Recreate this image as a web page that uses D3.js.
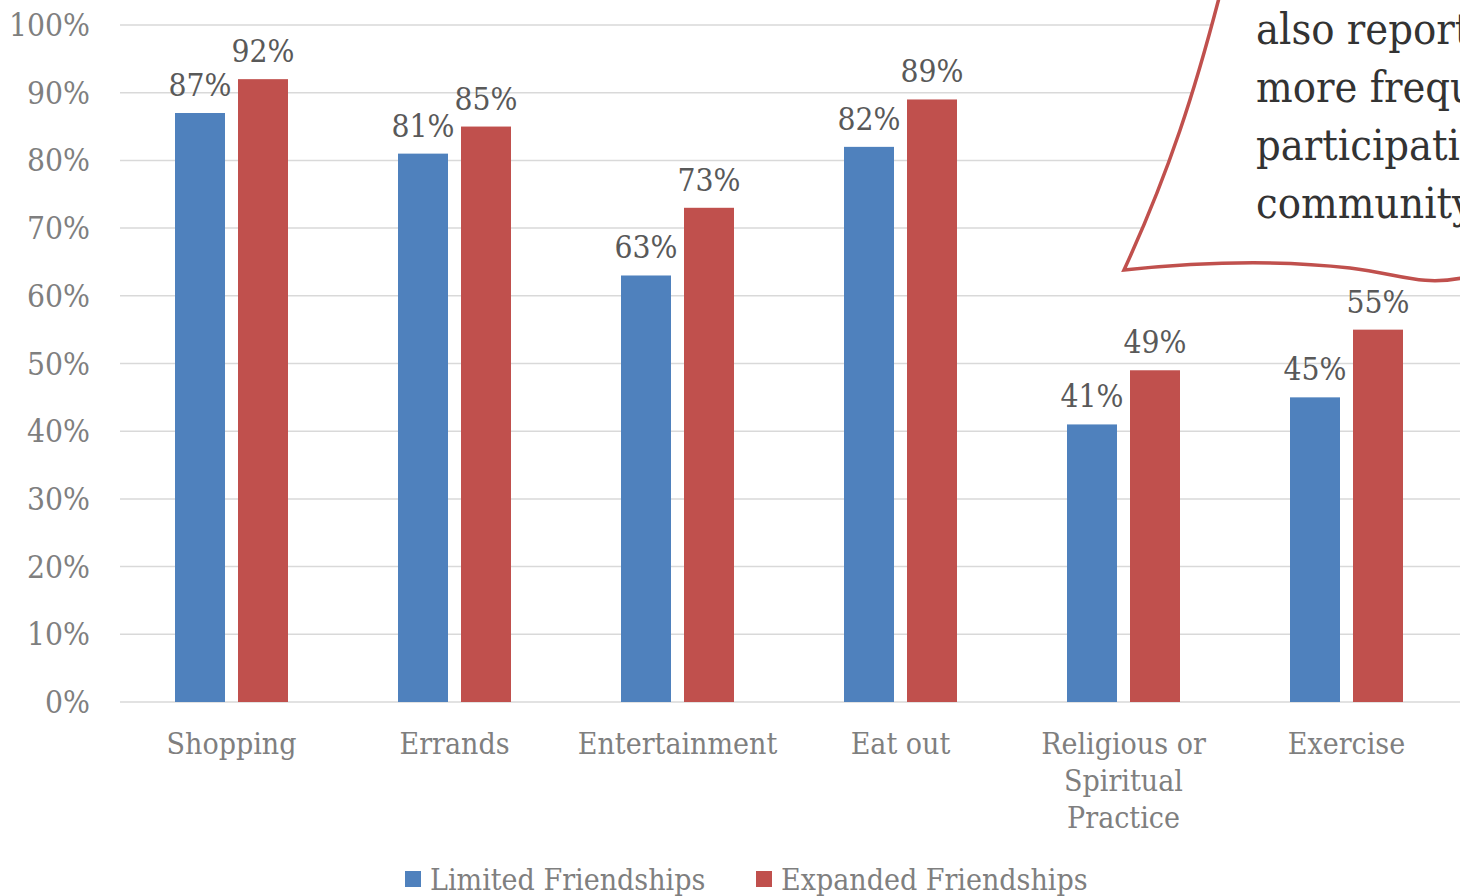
<!DOCTYPE html>
<html><head><meta charset="utf-8">
<script src="https://cdn.jsdelivr.net/npm/d3@7"></script>
<style>body{margin:0;background:#fff}svg{display:block}text{font-stretch:condensed}</style>
</head><body>
<svg id="c" width="1460" height="896"></svg>
<script>
const categories = [["Shopping"],["Errands"],["Entertainment"],["Eat out"],["Religious or","Spiritual","Practice"],["Exercise"]];
const limited = [0.87,0.81,0.63,0.82,0.41,0.45];
const expanded = [0.92,0.85,0.73,0.89,0.49,0.55];
const seriesNames = ["Limited Friendships","Expanded Friendships"];
const colors = ["#4F81BD","#C0504D"];
const yTicks = [0,0.1,0.2,0.3,0.4,0.5,0.6,0.7,0.8,0.9,1.0];
const calloutLines = ["also reported","more frequent","participation in","community"];

const FONT = "'DejaVu Serif Condensed', 'DejaVu Serif', serif";
const svg = d3.select("#c");
const W = 1460, H = 896;
const m = {l:120, r:2, t:25, b:194};
const x = d3.scaleBand().domain(d3.range(categories.length)).range([m.l, W - m.r]).paddingInner(0).paddingOuter(0);
const y = d3.scaleLinear().domain([0,1]).range([H - m.b, m.t]);
const barW = 50, gap = 13;

// gridlines
svg.append("g").selectAll("line").data(yTicks).join("line")
  .attr("x1", m.l).attr("x2", W).attr("y1", d=>y(d)).attr("y2", d=>y(d))
  .attr("stroke", "#d9d9d9").attr("stroke-width", 1.5);

// y labels
svg.append("g").selectAll("text").data(yTicks).join("text")
  .attr("x", 90).attr("y", d=>y(d)+11).attr("text-anchor","end")
  .attr("font-family", FONT).attr("font-size", 31.5).attr("fill", "#7f7f7f")
  .text(d=>d3.format(".0%")(d));

const series = [limited, expanded];
series.forEach((vals, si) => {
  const off = si === 0 ? -(gap/2 + barW) : gap/2;
  const g = svg.append("g");
  g.selectAll("rect").data(vals).join("rect")
    .attr("x", (d,i)=> x(i) + x.bandwidth()/2 + off)
    .attr("y", d=>y(d)).attr("width", barW).attr("height", d=>y(0)-y(d))
    .attr("fill", colors[si]);
  g.selectAll("text").data(vals).join("text")
    .attr("x", (d,i)=> x(i) + x.bandwidth()/2 + off + barW/2)
    .attr("y", d=>y(d)-17).attr("text-anchor","middle")
    .attr("font-family", FONT).attr("font-size", 31.5).attr("fill", "#595959")
    .text(d=>d3.format(".0%")(d));
});

// category labels
const cg = svg.append("g");
categories.forEach((lines, i) => {
  const t = cg.append("text").attr("x", x(i)+x.bandwidth()/2).attr("y", 754)
    .attr("text-anchor","middle").attr("font-family", FONT).attr("font-size", 30).attr("fill","#7f7f7f");
  lines.forEach((ln, j) => t.append("tspan").attr("x", x(i)+x.bandwidth()/2).attr("dy", j===0?0:37).text(ln));
});

// legend
const lg = svg.append("g");
const legX = [405, 756];
seriesNames.forEach((n, i) => {
  lg.append("rect").attr("x", legX[i]).attr("y", 871).attr("width", 16).attr("height", 16).attr("fill", colors[i]);
  lg.append("text").attr("x", legX[i]+25).attr("y", 890).attr("font-family", FONT).attr("font-size", 30).attr("fill","#7f7f7f").text(n);
});

// callout
svg.append("path")
  .attr("d", "M1219,-2 C1195,90 1170,170 1124,270 C1200,262 1280,260 1350,268 C1400,274 1420,286 1462,278 L1462,-2")
  .attr("fill", "#fff").attr("stroke", "#C0504D").attr("stroke-width", 3.5);
svg.append("g").selectAll("text").data(calloutLines).join("text")
  .attr("x", 1256).attr("y", (d,i)=> 44 + i*58)
  .attr("font-family", FONT).attr("font-size", 43).attr("fill", "#333")
  .text(d=>d);
</script>
</body></html>
